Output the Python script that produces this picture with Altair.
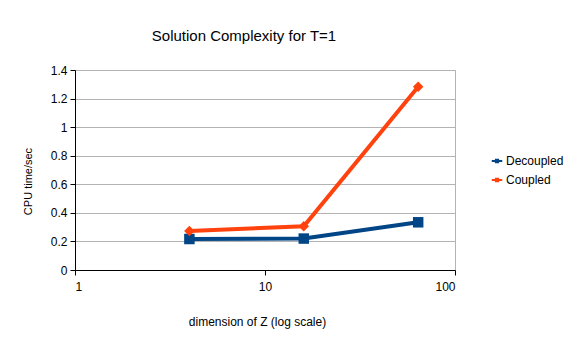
import altair as alt
import pandas as pd

dims = [4, 16, 64]
decoupled = [0.217, 0.22, 0.334]
coupled = [0.273, 0.306, 1.283]
series = ["Decoupled", "Coupled"]
colors = ["#004586", "#ff420e"]
shapes = ["square", "diamond"]
x_ticks = [1, 10, 100]
y_ticks = [0, 0.2, 0.4, 0.6, 0.8, 1.0, 1.2, 1.4]

rows = []
for d, v in zip(dims, decoupled):
    rows.append({"dim": d, "cpu": v, "series": "Decoupled"})
for d, v in zip(dims, coupled):
    rows.append({"dim": d, "cpu": v, "series": "Coupled"})
df = pd.DataFrame(rows)

FONT = "Liberation Sans"

x_enc = alt.X(
    "dim:Q",
    scale=alt.Scale(type="log", domain=[1, 100], nice=False),
    axis=alt.Axis(
        values=x_ticks, format="~g", grid=False, title="dimension of Z (log scale)",
        titleX=182, titleY=46, titleFontSize=12, titleFontWeight="normal",
        labelFontSize=12, labelPadding=6, tickSize=5,
    ),
)
y_enc = alt.Y(
    "cpu:Q",
    scale=alt.Scale(domain=[0, 1.4], nice=False),
    axis=alt.Axis(
        values=y_ticks, format="~g", title="CPU time/sec", gridColor="#b3b3b3",
        titleX=-47, titleY=111, titleAngle=-90, titleAlign="center", titleBaseline="middle",
        titleFontSize=11, titleFontWeight="normal",
        labelFontSize=12, labelPadding=3, tickSize=5,
    ),
)

legend = alt.Legend(
    title=None, orient="none", legendX=416, legendY=85, labelFontSize=12,
    symbolType="M-1,-0.2L1,-0.2L1,0.2L-1,0.2Z M-0.4,-0.45L0.4,-0.45L0.4,0.45L-0.4,0.45Z",
    symbolSize=110, symbolStrokeWidth=0, rowPadding=7, labelOffset=3,
)
color_enc = alt.Color("series:N", scale=alt.Scale(domain=series, range=colors), legend=legend)

lines = alt.Chart(df).mark_line(strokeWidth=4).encode(
    x=x_enc, y=y_enc, color=color_enc, detail="series:N"
)
point_layers = [
    alt.Chart(df).transform_filter(alt.datum.series == s)
    .mark_point(filled=True, opacity=1, size=110, shape=sh)
    .encode(x=x_enc, y=y_enc, color=color_enc)
    for s, sh in zip(series, shapes)
]

chart = alt.layer(lines, *point_layers).properties(
    width=380, height=200,
    title=alt.Title("Solution Complexity for T=1", fontSize=15, fontWeight="normal",
                    anchor="middle", dx=-21, offset=20, frame="group", font=FONT, color="#000000"),
    autosize=alt.AutoSizeParams(type="none"),
    padding={"left": 67, "top": 62, "right": 110, "bottom": 62},
).configure(font=FONT).configure_view(
    stroke="#b3b3b3", strokeWidth=1
).configure_axis(
    domainColor="#000000", tickColor="#000000", labelColor="#000000", titleColor="#000000",
    labelFont=FONT, titleFont=FONT,
).configure_legend(labelFont=FONT, labelColor="#000000")

chart.save("out.html", embed_options={"renderer": "svg", "actions": False})
